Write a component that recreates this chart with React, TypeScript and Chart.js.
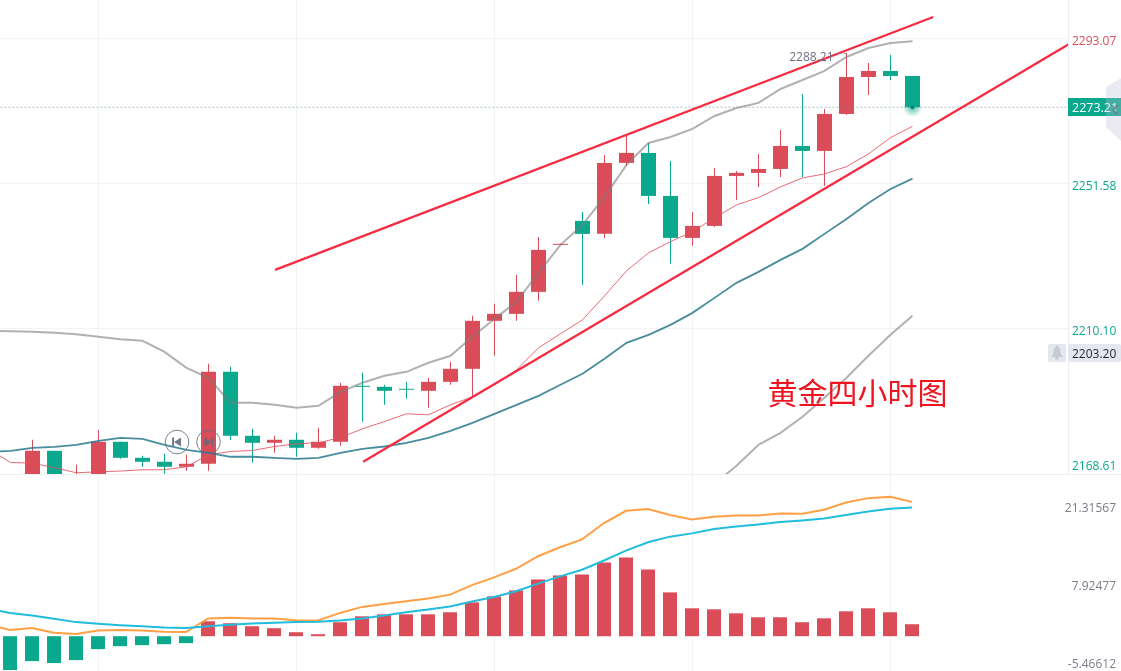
import React, { useEffect, useRef } from "react";
import Chart from "chart.js/auto";

const RED = "#db4c59";
const GREEN = "#0aa88c";
const FONT = '"Open Sans", sans-serif';

// Candles, index 0..41
const opens = [2164, 2165.5, 2175.25, 2163, 2166, 2177.83, 2173.25, 2172.11, 2170.68, 2171.53, 2197.84, 2179.54, 2177.54, 2178.4, 2176.11, 2177.83, 2193.84, 2193.55, 2192.98, 2192.41, 2194.98, 2198.7, 2212.43, 2214.43, 2220.72, 2234.16, 2241.02, 2237.31, 2257.61, 2260.47, 2248.17, 2236.16, 2239.59, 2253.89, 2254.75, 2255.89, 2262.47, 2261.04, 2271.62, 2282.2, 2283.92, 2282.49];
const highs = [2167, 2178.4, 2175.25, 2171.25, 2181.26, 2177.83, 2173.82, 2174.39, 2174.11, 2200.13, 2199.27, 2181.54, 2179.54, 2180.4, 2181.83, 2194.7, 2197.56, 2194.13, 2194.98, 2196.13, 2200.7, 2213.86, 2217.29, 2225.58, 2236.45, 2234.45, 2243.6, 2259.9, 2265.62, 2263.33, 2258.18, 2243.6, 2256.18, 2255.32, 2260.18, 2267.05, 2277.34, 2273.05, 2289.06, 2286.2, 2288.49, 2282.49];
const lows = [2161, 2163, 2162, 2160, 2164, 2172.96, 2170.68, 2168.67, 2169.53, 2169.53, 2178.4, 2171.82, 2174.68, 2173.54, 2175.82, 2176.68, 2183.54, 2188.41, 2190.12, 2187.55, 2194.13, 2190.98, 2202.42, 2212.43, 2218.15, 2234.16, 2222.72, 2236.16, 2256.75, 2245.88, 2228.73, 2233.87, 2239.31, 2247.03, 2250.75, 2253.61, 2253.61, 2251.03, 2271.33, 2277.05, 2281.34, 2273.55];
const closes = [2162, 2175.25, 2164, 2166, 2177.83, 2173.25, 2172.11, 2170.68, 2171.53, 2197.84, 2179.54, 2177.54, 2178.4, 2176.11, 2177.83, 2193.84, 2193.55, 2192.41, 2192.7, 2194.98, 2198.7, 2212.43, 2214.43, 2220.72, 2232.73, 2234.45, 2237.31, 2257.61, 2260.47, 2248.17, 2236.16, 2239.59, 2253.89, 2254.75, 2255.89, 2262.47, 2261.04, 2271.62, 2282.2, 2283.92, 2282.49, 2273.55];

// Overlays, index -1..41
const bandUpper = [2209.57, 2209.42, 2209.28, 2209, 2208.57, 2207.85, 2207.14, 2206.71, 2203.56, 2198.99, 2196.13, 2188.98, 2188.98, 2188.41, 2187.55, 2188.12, 2192.12, 2194.7, 2196.7, 2197.84, 2200.42, 2202.42, 2207.85, 2213, 2217.86, 2226.15, 2234.16, 2239.88, 2247.89, 2257.04, 2263.33, 2265.04, 2267.33, 2271.05, 2273.34, 2274.77, 2278.77, 2281.34, 2283.92, 2287.92, 2290.49, 2291.92, 2292.41];
const bandMiddle = [2174.88, 2175.25, 2176.11, 2176.39, 2176.97, 2178.11, 2178.97, 2178.68, 2176.97, 2175.54, 2174.68, 2173.54, 2173.54, 2173.25, 2172.96, 2173.25, 2174.68, 2175.82, 2176.48, 2177.54, 2178.97, 2180.97, 2183.26, 2185.83, 2188.41, 2190.98, 2194.13, 2197.27, 2201.56, 2206.14, 2208.42, 2211.28, 2214.71, 2219, 2223.29, 2226.44, 2229.87, 2233.02, 2237.31, 2241.59, 2246.17, 2250.17, 2253.12];
const fastAverage = [2175.82, 2171.91, 2171.73, 2170.39, 2168.96, 2169.25, 2169.45, 2169.82, 2169.82, 2170.68, 2174.11, 2175.05, 2175.34, 2176.48, 2177.25, 2177.54, 2179.05, 2181.54, 2183.63, 2185.83, 2185.55, 2188.41, 2190.69, 2194.13, 2198.41, 2204.71, 2208.71, 2212.71, 2219.58, 2226.72, 2231.87, 2235.1, 2237.96, 2241.88, 2245.6, 2247.69, 2250.75, 2253.32, 2254.46, 2256.55, 2260.18, 2264.84, 2268.1];
// Index 32..41
const bandLower = [2165.82, 2170.96, 2176.97, 2180.4, 2184.97, 2190.41, 2196.13, 2202.42, 2208.42, 2213.86];

// Drawn trend lines: [index, price]
const channelTop = [[12.03, 2227.01], [41.94, 2299.36]];
const channelBottom = [[16.03, 2172.11], [48.08, 2291.49]];

const priceTicks = [2293.07, 2251.58, 2210.1, 2168.61];
const lastPriceLine = 2273.55;
const lastPriceText = "2273.21";
const alertPrice = 2203.28;
const alertText = "2203.20";
const highText = "2288.21";
const titleText = "黄金四小时图";

// MACD, index 0..41 (lines -1..41)
const macdBars = [-5.8, -4.27, -4.61, -4.1, -2.22, -1.71, -1.54, -1.37, -1.19, 2.56, 2.22, 1.71, 1.37, 0.68, 0.34, 2.39, 3.41, 3.75, 3.75, 3.75, 4.1, 5.8, 6.83, 7.85, 9.73, 10.41, 10.58, 12.63, 13.48, 11.43, 7.51, 4.78, 4.61, 3.92, 3.24, 3.24, 2.39, 3.07, 4.27, 4.78, 4.1, 2.05];
const difLine = [1.4, 0.38, 0.72, -0.08, -0.3, 0.33, 0.38, 0.33, 0.09, 0.04, 2.38, 2.48, 2.38, 2.38, 2.09, 2.04, 3.33, 4.36, 4.87, 5.33, 5.79, 6.47, 8.11, 9.42, 10.91, 13.06, 14.6, 15.96, 18.76, 20.86, 21.15, 20.13, 19.37, 19.83, 20.06, 20.06, 20.4, 20.35, 21.03, 22.28, 23.03, 23.25, 22.39];
const deaLine = [4.05, 3.33, 2.89, 2.31, 1.75, 1.46, 1.23, 1.06, 0.84, 0.72, 1.06, 1.28, 1.52, 1.63, 1.75, 1.8, 2.04, 2.38, 2.89, 3.45, 3.91, 4.43, 5.28, 6.06, 7.04, 8.35, 9.6, 10.74, 12.33, 14.03, 15.45, 16.42, 16.98, 17.73, 18.18, 18.52, 18.93, 19.2, 19.54, 20.12, 20.74, 21.2, 21.42];
const macdTicks = [21.31567, 7.92477, -5.46612];

const timeTicks = [4, 13, 22, 31, 40];
const GRID = "#f2f3f6";

const series = (vals: number[], from: number) => vals.map((y, i) => ({ x: i + from, y }));
const line = (data: any, color: string, width: number, order: number, extra: any = {}) => ({
  type: "line" as const, data, borderColor: color, borderWidth: width, pointRadius: 0, tension: 0, order, ...extra,
});

const overlayPlugin = {
  id: "overlay",
  beforeDatasetsDraw(chart: any) {
    const { ctx, scales } = chart;
    const x = scales.x.getPixelForValue(41);
    const y = scales.y.getPixelForValue(lastPriceLine);
    const g = ctx.createRadialGradient(x, y, 1, x, y, 10);
    g.addColorStop(0, "rgba(10,168,140,0.65)");
    g.addColorStop(1, "rgba(10,168,140,0)");
    ctx.save();
    ctx.fillStyle = g;
    ctx.beginPath();
    ctx.arc(x, y, 10, 0, Math.PI * 2);
    ctx.fill();
    ctx.restore();
  },
  afterDraw(chart: any) {
    const { ctx, scales } = chart;
    const X = (v: number) => scales.x.getPixelForValue(v);
    const Y = (v: number) => scales.y.getPixelForValue(v);
    ctx.save();
    ctx.textBaseline = "middle";
    ctx.textAlign = "left";

    // title annotation
    ctx.font = '30px "Noto Sans CJK SC"';
    ctx.fillStyle = "#ee1520";
    ctx.textAlign = "center";
    ctx.fillText(titleText, X(38.5), Y(2192));
    ctx.textAlign = "left";

    // high-price marker
    const hx = X(38);
    const hy = Y(highs[38]);
    ctx.fillStyle = "#6b7080";
    ctx.font = `12px ${FONT}`;
    ctx.textAlign = "right";
    ctx.fillText(highText, hx - 13, hy + 5);
    ctx.textAlign = "left";
    ctx.strokeStyle = "#8a8f9c";
    ctx.lineWidth = 1;
    ctx.setLineDash([2, 2]);
    ctx.beginPath();
    ctx.moveTo(hx - 11, hy + 0.5);
    ctx.lineTo(hx, hy + 0.5);
    ctx.stroke();
    ctx.setLineDash([]);

    // last-price dot
    ctx.fillStyle = "#078a73";
    ctx.beginPath();
    ctx.arc(X(41), Y(lastPriceLine), 2, 0, Math.PI * 2);
    ctx.fill();

    // last-price tag
    const py = Math.round(Y(lastPriceLine));
    ctx.fillStyle = GREEN;
    ctx.fillRect(1068, py - 9, 53, 18);
    ctx.fillStyle = "#fff";
    ctx.font = `12.5px ${FONT}`;
    ctx.fillText(lastPriceText, 1072, py + 1.5);

    // alert tag and bell
    const ay = Math.round(Y(alertPrice));
    ctx.fillStyle = "#e4e7ef";
    ctx.beginPath();
    ctx.roundRect(1068, ay - 9, 53, 18, 2);
    ctx.fill();
    ctx.beginPath();
    ctx.roundRect(1048, ay - 9, 18, 18, 2);
    ctx.fill();
    ctx.fillStyle = "#1f2430";
    ctx.font = `12px ${FONT}`;
    ctx.fillText(alertText, 1072, ay + 1.5);
    ctx.fillStyle = "#c6cad4";
    ctx.beginPath();
    ctx.moveTo(1051, ay + 4);
    ctx.quadraticCurveTo(1053.5, ay + 2, 1053.5, ay - 1);
    ctx.quadraticCurveTo(1053.5, ay - 6, 1057, ay - 6);
    ctx.quadraticCurveTo(1060.5, ay - 6, 1060.5, ay - 1);
    ctx.quadraticCurveTo(1060.5, ay + 2, 1063, ay + 4);
    ctx.closePath();
    ctx.fill();
    ctx.beginPath();
    ctx.arc(1057, ay + 5, 1.8, 0, Math.PI * 2);
    ctx.fill();
    ctx.beginPath();
    ctx.arc(1057, ay - 6.5, 1.2, 0, Math.PI * 2);
    ctx.fill();

    // side handle
    ctx.fillStyle = "rgba(190,190,215,0.32)";
    ctx.beginPath();
    ctx.moveTo(1121, 78);
    ctx.lineTo(1106, 87);
    ctx.lineTo(1106, 127);
    ctx.lineTo(1121, 141);
    ctx.closePath();
    ctx.fill();
    ctx.strokeStyle = "#77788a";
    ctx.lineWidth = 1.5;
    ctx.beginPath();
    ctx.moveTo(1118, 105);
    ctx.lineTo(1113, 110);
    ctx.lineTo(1118, 115);
    ctx.stroke();

    // replay buttons
    const by = 442;
    [
      { c: X(7.57), dir: -1 },
      { c: X(9), dir: 1 },
    ].forEach(({ c, dir }) => {
      ctx.strokeStyle = "rgba(100,106,125,0.85)";
      ctx.lineWidth = 1;
      ctx.beginPath();
      ctx.arc(c, by, 11.8, 0, Math.PI * 2);
      ctx.stroke();
      ctx.fillStyle = "rgba(100,106,125,0.9)";
      ctx.fillRect(c + dir * 4 - 1, by - 4.5, 2, 9);
      ctx.beginPath();
      ctx.moveTo(c + dir * 3, by);
      ctx.lineTo(c - dir * 4, by - 4.5);
      ctx.lineTo(c - dir * 4, by + 4.5);
      ctx.closePath();
      ctx.fill();
    });
    ctx.restore();
  },
};

function timeAxis(min: number, max: number) {
  return {
    type: "linear", min, max, offset: false,
    afterBuildTicks: (s: any) => { s.ticks = timeTicks.map((value) => ({ value })); },
    afterFit: (s: any) => { s.height = 0; s.paddingLeft = 0; s.paddingRight = 0; },
    grid: { color: GRID, drawTicks: false, offset: false },
    border: { display: false },
    ticks: { display: false },
  };
}

export default function App() {
  const topRef = useRef<HTMLCanvasElement>(null);
  const bottomRef = useRef<HTMLCanvasElement>(null);

  useEffect(() => {
    const candleColor = opens.map((o, i) => (closes[i] >= o ? RED : GREEN));
    const common = {
      responsive: false, maintainAspectRatio: false, animation: false as const, devicePixelRatio: 1,
      events: [] as any[],
      layout: { padding: 0 },
      plugins: { legend: { display: false }, tooltip: { enabled: false } },
    };

    const top = new Chart(topRef.current!, {
      type: "bar",
      data: {
        datasets: [
          line(channelTop.map(([x, y]) => ({ x, y })), "#f62a40", 2.2, 1),
          line(channelBottom.map(([x, y]) => ({ x, y })), "#f62a40", 2.2, 1),
          line(series(bandUpper, -1), "rgba(125,125,125,0.6)", 2, 2),
          line(series(bandLower, 32), "rgba(125,125,125,0.6)", 2, 2),
          line(series(bandMiddle, -1), "rgba(40,120,140,0.85)", 1.8, 2),
          line(series(fastAverage, -1), "rgba(228,80,92,0.85)", 1, 2),
          line([{ x: -1, y: lastPriceLine }, { x: 49, y: lastPriceLine }], "rgba(110,150,145,0.6)", 1, 3, { borderDash: [2, 2] }),
          {
            data: opens.map((o, i) => ({ x: i, y: [Math.min(o, closes[i]), Math.max(o, closes[i])] })),
            backgroundColor: candleColor, barThickness: 15, grouped: false, order: 4, inflateAmount: 0, minBarLength: 1,
          },
          {
            data: opens.map((_, i) => ({ x: i, y: [lows[i], highs[i]] })),
            backgroundColor: candleColor, barThickness: 1, grouped: false, order: 5, inflateAmount: 0,
          },
        ] as any,
      },
      options: {
        ...common,
        scales: {
          x: timeAxis(-10.5 / 22, (1068 - 10.5) / 22),
          y: {
            position: "right", min: 2168.61, max: 2304.22,
            afterBuildTicks: (s: any) => { s.ticks = priceTicks.map((value) => ({ value })); },
            afterFit: (s: any) => { s.width = 53; s.paddingTop = 0; s.paddingBottom = 0; },
            grid: { color: GRID, drawTicks: false },
            border: { display: true, color: "#eceef2" },
            ticks: {
              autoSkip: false, padding: 4,
              // the blank line nudges each label down, or up for the last one that sits on the pane edge
              font: (c: any) => ({ family: FONT, size: 12, lineHeight: c.index === priceTicks.length - 1 ? "14px" : "4.6px" }),
              color: (c: any) => (c.index === 0 ? RED : GREEN),
              callback: (_v: any, i: number) => {
                const t = priceTicks[i].toFixed(2);
                return i === priceTicks.length - 1 ? [t, ""] : ["", t];
              },
            },
          },
        },
      } as any,
      plugins: [overlayPlugin],
    });

    const bottomMax = (1060 - 10) / 22;
    const bottom = new Chart(bottomRef.current!, {
      type: "bar",
      data: {
        datasets: [
          line(series(deaLine, -1), "#22bcdc", 2, 1),
          line(series(difLine, -1), "#ffa045", 2, 2),
          {
            data: macdBars.map((y, i) => ({ x: i, y })),
            yAxisID: "yHist",
            backgroundColor: macdBars.map((v) => (v >= 0 ? RED : GREEN)),
            barThickness: 14, grouped: false, order: 3, inflateAmount: 0,
          },
        ] as any,
      },
      options: {
        ...common,
        scales: {
          x: timeAxis(-10 / 22, bottomMax),
          y: {
            position: "right", min: -6.64, max: 27,
            afterBuildTicks: (s: any) => { s.ticks = macdTicks.map((value) => ({ value })); },
            afterFit: (s: any) => { s.width = 56; s.paddingTop = 0; s.paddingBottom = 0; },
            grid: { display: false, drawTicks: false },
            border: { display: false },
            ticks: {
              autoSkip: false, padding: 0, crossAlign: "far",
              font: { family: FONT, size: 12 },
              color: "#7b7e8a",
              callback: (_v: any, i: number) => macdTicks[i].toFixed(5),
            },
          },
          yHist: {
            display: false, position: "right", min: -5.97, max: 27.64,
          },
        },
      } as any,
    });

    return () => { top.destroy(); bottom.destroy(); };
  }, []);

  return (
    <div style={{ position: "absolute", left: 0, top: 0, width: 1121, height: 671, overflow: "hidden", background: "#fff" }}>
      <canvas ref={topRef} width={1121} height={474} style={{ position: "absolute", left: 0, top: 0, display: "block" }} />
      <div style={{ position: "absolute", left: 0, top: 474, width: 1121, height: 1, background: "#eef0f3" }} />
      <canvas ref={bottomRef} width={1116} height={196} style={{ position: "absolute", left: 0, top: 475, display: "block" }} />
    </div>
  );
}
